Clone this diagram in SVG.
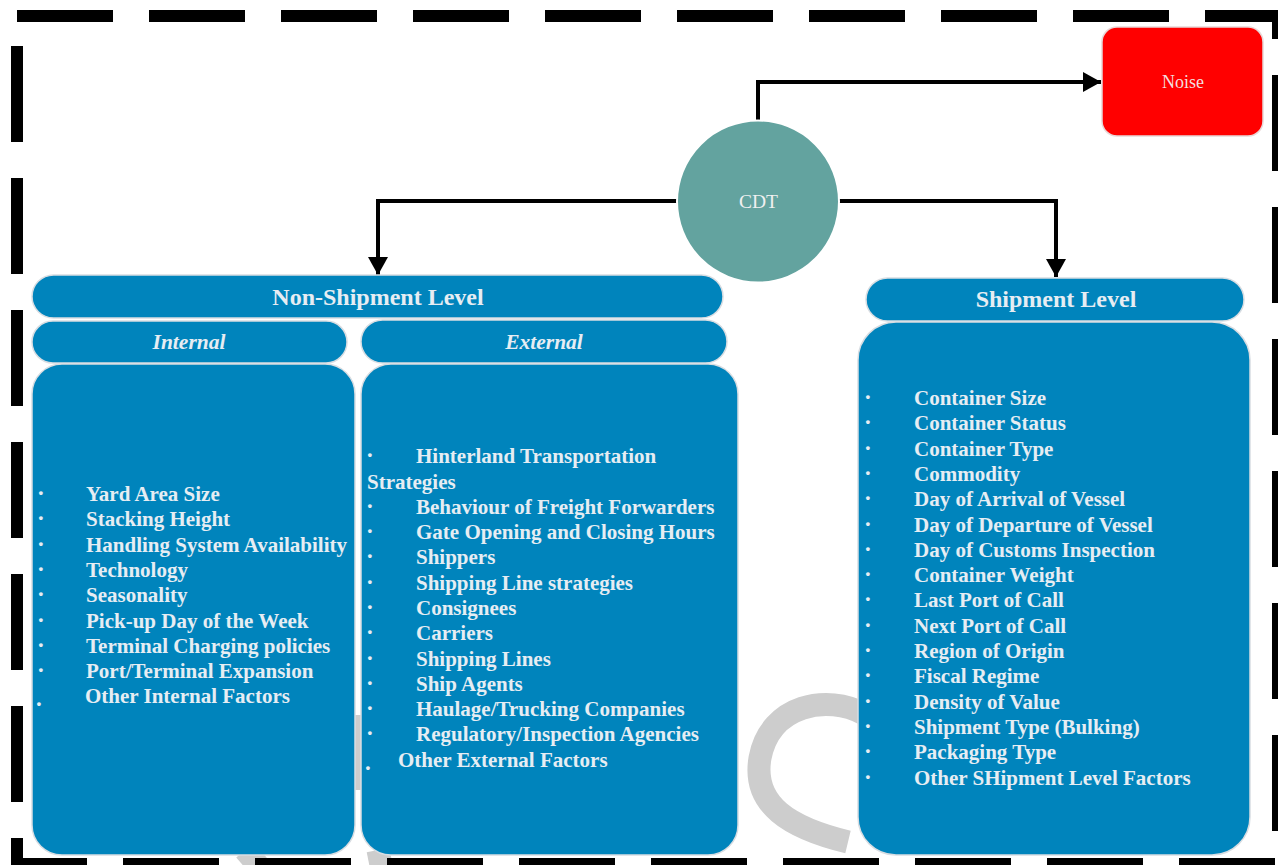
<svg xmlns="http://www.w3.org/2000/svg" width="1278" height="865" viewBox="0 0 1278 865">
<defs>
<style>
.box{fill:#0084bc;stroke:#d8dde2;stroke-width:1.5}
.hd{font-family:"Liberation Serif","Times New Roman",serif;font-weight:bold;fill:#e6edf3;text-anchor:middle}
.it{font-family:"Liberation Serif","Times New Roman",serif;font-weight:bold;font-size:21px;fill:#e6edf3}
.bl{font-family:"Liberation Serif","Times New Roman",serif;font-weight:bold;font-size:23px;fill:#e6edf3}
.conn{fill:none;stroke:#000;stroke-width:4}
.wm{fill:none;stroke:#cdcdcd;stroke-width:23}
</style>
<marker id="ah" markerUnits="userSpaceOnUse" markerWidth="20" markerHeight="20" refX="18" refY="10" orient="auto">
<path d="M0,0 L18,10 L0,20 z" fill="#000"/>
</marker>
</defs>
<rect width="1278" height="865" fill="#fff"/>
<g id="watermark">
<path class="wm" d="M864 714 C 828 694, 770 704, 760 758 C 752 805, 790 828, 848 842"/>
<path class="wm" d="M358 715 L358 790"/>
<path class="wm" d="M245 850 L262 870"/>
<path class="wm" d="M378 850 L382 870"/>
</g>
<rect x="17" y="16" width="1261" height="848" fill="none" stroke="#000" stroke-width="12" stroke-dasharray="96 36"/>
<g id="connectors">
<path class="conn" d="M758 120 L758 82 L1101 82" marker-end="url(#ah)"/>
<path class="conn" d="M677 201 L378 201 L378 275" marker-end="url(#ah)"/>
<path class="conn" d="M839 201 L1056 201 L1056 277" marker-end="url(#ah)"/>
</g>
<g id="noise">
<rect x="1102" y="27" width="161" height="109" rx="15" fill="#ff0000" stroke="#e8d8d8" stroke-width="1.5"/>
<text x="1183" y="88" font-family="Liberation Serif, Times New Roman, serif" font-size="18" fill="#f3dede" text-anchor="middle">Noise</text>
</g>
<g id="cdt">
<circle cx="758" cy="201.5" r="81" fill="#63a39f" stroke="#fff" stroke-width="2"/>
<text x="758.5" y="207.5" font-family="Liberation Serif, Times New Roman, serif" font-size="19.5" fill="#f0f0f0" text-anchor="middle">CDT</text>
</g>
<g id="non-shipment-level">
<rect class="box" x="32" y="275" width="691" height="43" rx="21.5"/>
<text class="hd" x="378" y="305" font-size="24">Non-Shipment Level</text>
</g>
<g id="internal-header">
<rect class="box" x="32" y="321" width="315" height="42" rx="21"/>
<text class="hd" x="189" y="348.5" font-size="21.5" font-style="italic">Internal</text>
</g>
<g id="external-header">
<rect class="box" x="361" y="320" width="366" height="43" rx="21.5"/>
<text class="hd" x="544" y="348.5" font-size="21.5" font-style="italic">External</text>
</g>
<g id="internal">
<rect class="box" x="32" y="364" width="323" height="491" rx="30"/>
<g class="bl">
<text x="37" y="501">·</text><text x="37" y="526.3">·</text><text x="37" y="551.6">·</text><text x="37" y="577">·</text><text x="37" y="602.2">·</text><text x="37" y="627.5">·</text><text x="37" y="652.8">·</text><text x="37" y="678">·</text><text x="36" y="706">.</text>
</g>
<g class="it">
<text x="86" y="501">Yard Area Size</text>
<text x="86" y="526.3">Stacking Height</text>
<text x="86" y="551.6">Handling System Availability</text>
<text x="86" y="577">Technology</text>
<text x="86" y="602.2">Seasonality</text>
<text x="86" y="627.5">Pick-up Day of the Week</text>
<text x="86" y="652.8">Terminal Charging policies</text>
<text x="86" y="678">Port/Terminal Expansion</text>
<text x="85" y="703.4">Other Internal Factors</text>
</g>
</g>
<g id="external">
<rect class="box" x="361" y="364" width="377" height="491" rx="30"/>
<g class="bl">
<text x="366" y="463">·</text><text x="366" y="513.8">·</text><text x="366" y="539">·</text><text x="366" y="564.4">·</text><text x="366" y="589.7">·</text><text x="366" y="615">·</text><text x="366" y="640.3">·</text><text x="366" y="665.5">·</text><text x="366" y="690.8">·</text><text x="366" y="716">·</text><text x="366" y="741.4">·</text><text x="365" y="769.5">.</text>
</g>
<g class="it">
<text x="416" y="463">Hinterland Transportation</text>
<text x="367" y="488.5">Strategies</text>
<text x="416" y="513.8">Behaviour of Freight Forwarders</text>
<text x="416" y="539">Gate Opening and Closing Hours</text>
<text x="416" y="564.4">Shippers</text>
<text x="416" y="589.7">Shipping Line strategies</text>
<text x="416" y="615">Consignees</text>
<text x="416" y="640.3">Carriers</text>
<text x="416" y="665.5">Shipping Lines</text>
<text x="416" y="690.8">Ship Agents</text>
<text x="416" y="716">Haulage/Trucking Companies</text>
<text x="416" y="741.4">Regulatory/Inspection Agencies</text>
<text x="398" y="766.7">Other External Factors</text>
</g>
</g>
<g id="shipment-level">
<rect class="box" x="866" y="278" width="378" height="43" rx="21.5"/>
<text class="hd" x="1056" y="307" font-size="24">Shipment Level</text>
</g>
<g id="shipment">
<rect class="box" x="858" y="322" width="392" height="533" rx="38"/>
<g class="bl">
<text x="864" y="405">·</text><text x="864" y="430.3">·</text><text x="864" y="455.6">·</text><text x="864" y="480.9">·</text><text x="864" y="506.2">·</text><text x="864" y="531.5">·</text><text x="864" y="556.8">·</text><text x="864" y="582.1">·</text><text x="864" y="607.4">·</text><text x="864" y="632.7">·</text><text x="864" y="658">·</text><text x="864" y="683.3">·</text><text x="864" y="708.6">·</text><text x="864" y="733.9">·</text><text x="864" y="759.2">·</text><text x="864" y="784.5">·</text>
</g>
<g class="it">
<text x="914" y="405">Container Size</text>
<text x="914" y="430.3">Container Status</text>
<text x="914" y="455.6">Container Type</text>
<text x="914" y="480.9">Commodity</text>
<text x="914" y="506.2">Day of Arrival of Vessel</text>
<text x="914" y="531.5">Day of Departure of Vessel</text>
<text x="914" y="556.8">Day of Customs Inspection</text>
<text x="914" y="582.1">Container Weight</text>
<text x="914" y="607.4">Last Port of Call</text>
<text x="914" y="632.7">Next Port of Call</text>
<text x="914" y="658">Region of Origin</text>
<text x="914" y="683.3">Fiscal Regime</text>
<text x="914" y="708.6">Density of Value</text>
<text x="914" y="733.9">Shipment Type (Bulking)</text>
<text x="914" y="759.2">Packaging Type</text>
<text x="914" y="784.5">Other SHipment Level Factors</text>
</g>
</g>
</svg>
